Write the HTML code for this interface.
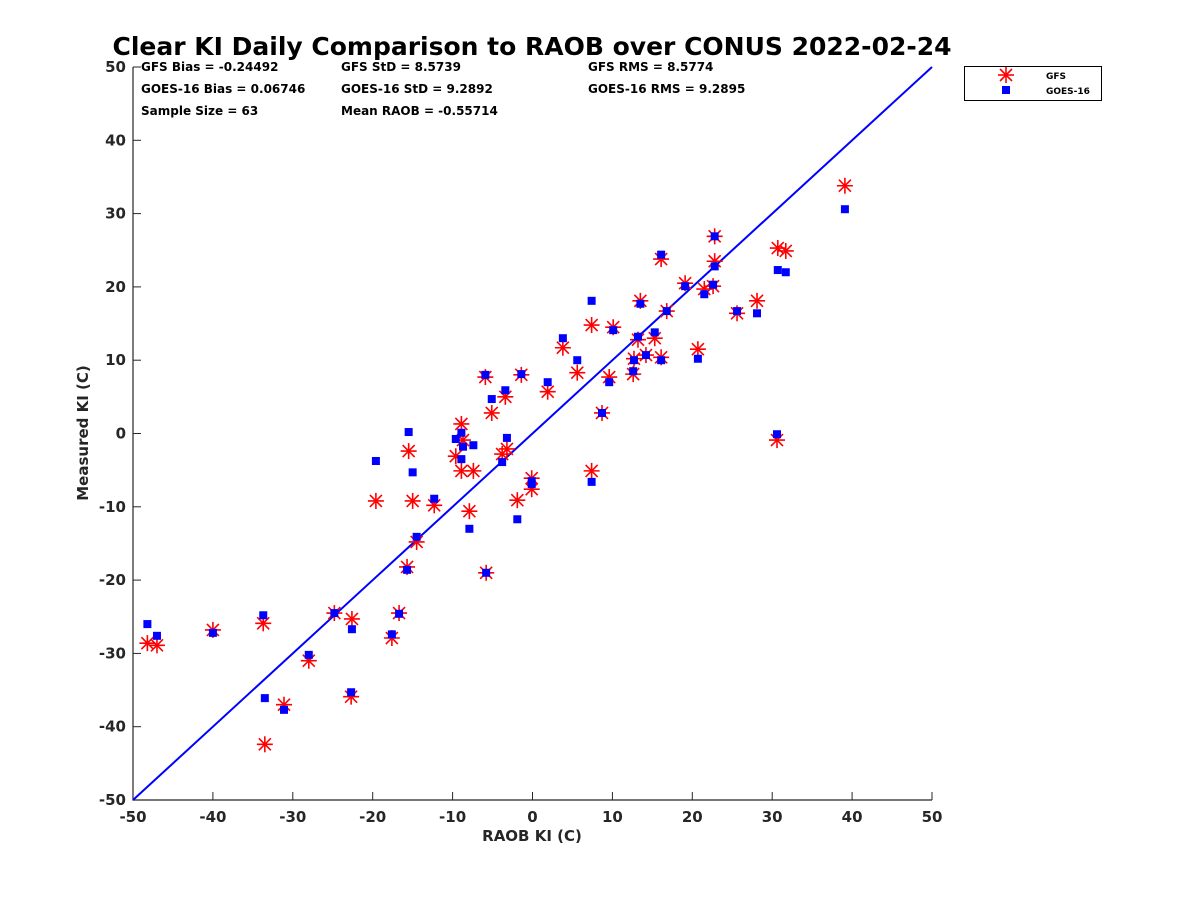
<!DOCTYPE html>
<html><head><meta charset="utf-8"><style>
body{margin:0;background:#fff}
svg{display:block;font-family:"DejaVu Sans","Liberation Sans",sans-serif}
</style></head><body>
<svg id="chart" width="1200" height="900">
<text x="532" y="55" text-anchor="middle" font-size="25" font-weight="bold" fill="#000">Clear KI Daily Comparison to RAOB over CONUS 2022-02-24</text>
<g id="plot"></g>
<g font-size="12" font-weight="bold" fill="#000">
<text x="141" y="71">GFS Bias = -0.24492</text>
<text x="341" y="71">GFS StD = 8.5739</text>
<text x="588" y="71">GFS RMS = 8.5774</text>
<text x="141" y="93">GOES-16 Bias = 0.06746</text>
<text x="341" y="93">GOES-16 StD = 9.2892</text>
<text x="588" y="93">GOES-16 RMS = 9.2895</text>
<text x="141" y="115">Sample Size = 63</text>
<text x="341" y="115">Mean RAOB = -0.55714</text>
</g>
<g>
<rect x="964.5" y="66.5" width="137" height="34" fill="#fff" stroke="#000" stroke-width="1"/>
<g stroke="#f00" stroke-width="1.6">
<line x1="998" y1="75" x2="1014" y2="75"/><line x1="1006" y1="67" x2="1006" y2="83"/>
<line x1="1000" y1="69" x2="1012" y2="81"/><line x1="1000" y1="81" x2="1012" y2="69"/></g>
<text x="1046" y="79" font-size="9" font-weight="bold">GFS</text>
<rect x="1002" y="86" width="8" height="8" fill="#00f"/>
<text x="1046" y="94" font-size="9" font-weight="bold">GOES-16</text>
</g>
</svg>
<script>
const raob=[-48.2,-47.0,-40.0,-33.7,-33.5,-31.1,-28.0,-24.8,-22.6,-22.7,-19.6,-17.6,-16.7,-15.7,-15.5,-15.0,-14.5,-12.3,-9.6,-8.9,-8.9,-8.7,-7.9,-7.4,-5.9,-5.8,-5.1,-3.4,-3.8,-3.2,-1.9,-1.4,-0.1,-0.1,1.9,3.8,5.6,7.4,7.4,8.7,9.6,10.1,12.6,12.7,13.2,13.5,14.2,15.3,16.1,16.1,16.8,19.1,20.7,21.5,22.6,22.8,22.8,25.6,28.1,30.6,30.7,31.7,39.1];
const gfs=[-28.6,-28.9,-26.8,-25.9,-42.4,-37.0,-31.0,-24.5,-25.3,-35.9,-9.2,-27.9,-24.5,-18.2,-2.4,-9.2,-14.8,-9.8,-3.1,1.3,-5.1,-0.9,-10.6,-5.1,7.7,-19.0,2.8,5.0,-2.8,-2.1,-9.1,8.0,-6.1,-7.6,5.7,11.7,8.3,-5.1,14.8,2.8,7.7,14.5,8.1,10.2,12.8,18.1,10.7,13.0,10.4,23.8,16.7,20.5,11.5,19.7,20.1,23.5,26.9,16.4,18.1,-0.9,25.3,24.9,33.8];
const goes=[-26.0,-27.6,-27.2,-24.8,-36.1,-37.7,-30.2,-24.5,-26.7,-35.3,-3.75,-27.4,-24.6,-18.6,0.2,-5.3,-14.1,-8.9,-0.75,0.1,-3.5,-1.8,-13.0,-1.6,8.0,-19.0,4.7,5.9,-3.9,-0.6,-11.7,8.1,-6.5,-6.9,7.0,13.0,10.0,-6.6,18.1,2.8,7.0,14.1,8.5,10.0,13.2,17.7,10.7,13.8,10.0,24.4,16.7,20.1,10.2,19.0,20.3,22.8,26.9,16.7,16.4,-0.1,22.3,22.0,30.6];
const ticks=[-50,-40,-30,-20,-10,0,10,20,30,40,50];
const X0=133,X1=932,Y0=800,Y1=67;
const sx=v=>X0+(v+50)/100*(X1-X0);
const sy=v=>Y0-(v+50)/100*(Y0-Y1);
const NS='http://www.w3.org/2000/svg';
const g=document.getElementById('plot');
function mk(t,a,p){const e=document.createElementNS(NS,t);for(const k in a)e.setAttribute(k,a[k]);(p||g).appendChild(e);return e;}
const ax=mk('path',{d:`M${X0} ${Y1}V${Y0}H${X1}`,fill:'none',stroke:'#262626','stroke-width':1.2});


ticks.forEach(t=>{
 const x=sx(t),y=sy(t);
 const tx=mk('line',{x1:x,y1:Y0,x2:x,y2:Y0-8,stroke:'#262626','stroke-width':1});
 
 
 const ty=mk('line',{x1:X0,y1:y,x2:X0+8,y2:y,stroke:'#262626','stroke-width':1});
 
 
 const lx=mk('text',{x:x,y:Y0+22,'text-anchor':'middle','font-size':15,'font-weight':'bold',fill:'#262626'});lx.textContent=t;
 
 
 const ly=mk('text',{x:X0-7,y:y+5,'text-anchor':'end','font-size':15,'font-weight':'bold',fill:'#262626'});ly.textContent=t;
 
 
});
const xt=mk('text',{x:532,y:841,'text-anchor':'middle','font-size':15,'font-weight':'bold',fill:'#262626'});xt.textContent='RAOB KI (C)';


const yt=mk('text',{x:88,y:433,'text-anchor':'middle','font-size':15,'font-weight':'bold',fill:'#262626',transform:'rotate(-90 88 433)'});yt.textContent='Measured KI (C)';


const ref=mk('line',{x1:sx(-50),y1:sy(-50),x2:sx(50),y2:sy(50),stroke:'#00f','stroke-width':2});


raob.forEach((r,i)=>{
 const x=sx(r),y=sy(gfs[i]);
 const s=mk('g',{stroke:'#f00','stroke-width':1.6});
 
 
 mk('line',{x1:x-8,y1:y,x2:x+8,y2:y},s);mk('line',{x1:x,y1:y-8,x2:x,y2:y+8},s);
 mk('line',{x1:x-6,y1:y-6,x2:x+6,y2:y+6},s);mk('line',{x1:x-6,y1:y+6,x2:x+6,y2:y-6},s);
});
raob.forEach((r,i)=>{
 const q=mk('rect',{x:sx(r)-4,y:sy(goes[i])-4,width:8,height:8,fill:'#00f'});
 
 
});
</script>
</body></html>
